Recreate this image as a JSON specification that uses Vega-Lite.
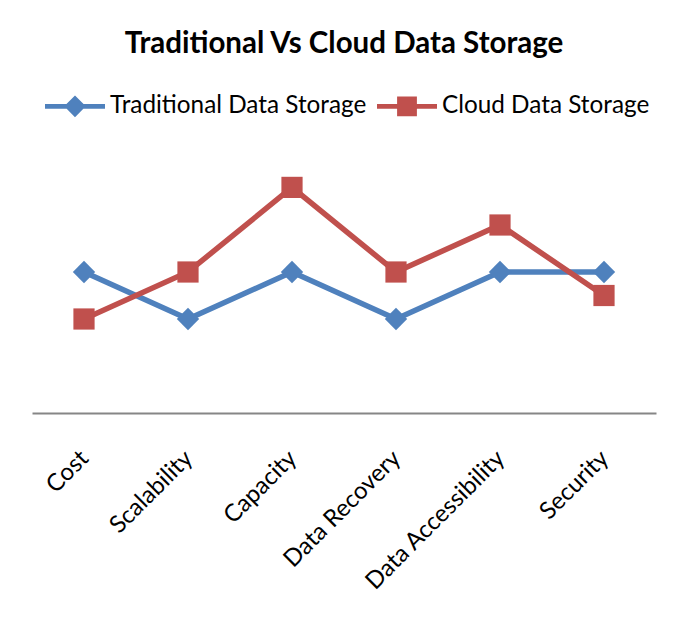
{
  "$schema": "https://vega.github.io/schema/vega-lite/v6.json",
  "width": 624,
  "height": 282,
  "autosize": {"type": "none"},
  "padding": {"left": 32, "top": 131, "right": 32, "bottom": 221},
  "background": "white",
  "title": {"text": "Traditional Vs Cloud Data Storage", "font": "Lato", "fontSize": 29.5, "fontWeight": "bold", "color": "black", "anchor": "middle", "offset": 17},
  "config": {"view": {"stroke": null}},
  "data": {"values": [
    {"category": "Cost", "series": "Traditional Data Storage", "value": 3},
    {"category": "Scalability", "series": "Traditional Data Storage", "value": 2},
    {"category": "Capacity", "series": "Traditional Data Storage", "value": 3},
    {"category": "Data Recovery", "series": "Traditional Data Storage", "value": 2},
    {"category": "Data Accessibility", "series": "Traditional Data Storage", "value": 3},
    {"category": "Security", "series": "Traditional Data Storage", "value": 3},
    {"category": "Cost", "series": "Cloud Data Storage", "value": 2},
    {"category": "Scalability", "series": "Cloud Data Storage", "value": 3},
    {"category": "Capacity", "series": "Cloud Data Storage", "value": 4.8},
    {"category": "Data Recovery", "series": "Cloud Data Storage", "value": 3},
    {"category": "Data Accessibility", "series": "Cloud Data Storage", "value": 4},
    {"category": "Security", "series": "Cloud Data Storage", "value": 2.5}
  ]},
  "encoding": {
    "x": {"field": "category", "type": "nominal", "sort": ["Cost", "Scalability", "Capacity", "Data Recovery", "Data Accessibility", "Security"],
      "axis": {"title": null, "labelAngle": -45, "labelFont": "Lato", "labelFontSize": 24, "labelLimit": 0, "labelColor": "black", "domainColor": "#868686", "domainWidth": 2, "ticks": false, "grid": false, "labelPadding": 33, "labelOffset": -8}},
    "y": {"field": "value", "type": "quantitative", "scale": {"domain": [0, 6], "nice": false, "zero": true}, "axis": null},
    "color": {"field": "series", "type": "nominal",
      "scale": {"domain": ["Traditional Data Storage", "Cloud Data Storage"], "range": ["#4F81BD", "#C0504D"]},
      "legend": {"orient": "none", "legendX": 13, "legendY": -55, "direction": "horizontal", "title": null,
        "symbolType": "M-1,-0.08H1V0.08H-1Z", "symbolSize": 3600, "labelFont": "Lato", "labelFontSize": 24.3, "labelLimit": 0, "labelColor": "black", "labelOffset": 5, "columnPadding": 10,
        "encode": {"symbols": {"update": {"shape": {"signal": "datum.value === 'Cloud Data Storage' ? 'M-1,-0.08H1V0.08H-1Z M-0.33,-0.33H0.33V0.33H-0.33Z' : 'M-1,-0.08H1V0.08H-1Z M0,-0.36L0.36,0L0,0.36L-0.36,0Z'"}, "strokeWidth": {"value": 0}, "fillOpacity": {"value": 1}, "opacity": {"value": 1}}}}}}
  },
  "layer": [
    {"transform": [{"filter": "datum.series === 'Traditional Data Storage'"}], "mark": {"type": "line", "strokeWidth": 5.5}},
    {"transform": [{"filter": "datum.series === 'Cloud Data Storage'"}], "mark": {"type": "line", "strokeWidth": 5.5}},
    {"transform": [{"filter": "datum.series === 'Traditional Data Storage'"}], "mark": {"type": "point", "shape": "diamond", "filled": true, "opacity": 1, "size": 500}},
    {"transform": [{"filter": "datum.series === 'Cloud Data Storage'"}], "mark": {"type": "point", "shape": "square", "filled": true, "opacity": 1, "size": 450}}
  ]
}
